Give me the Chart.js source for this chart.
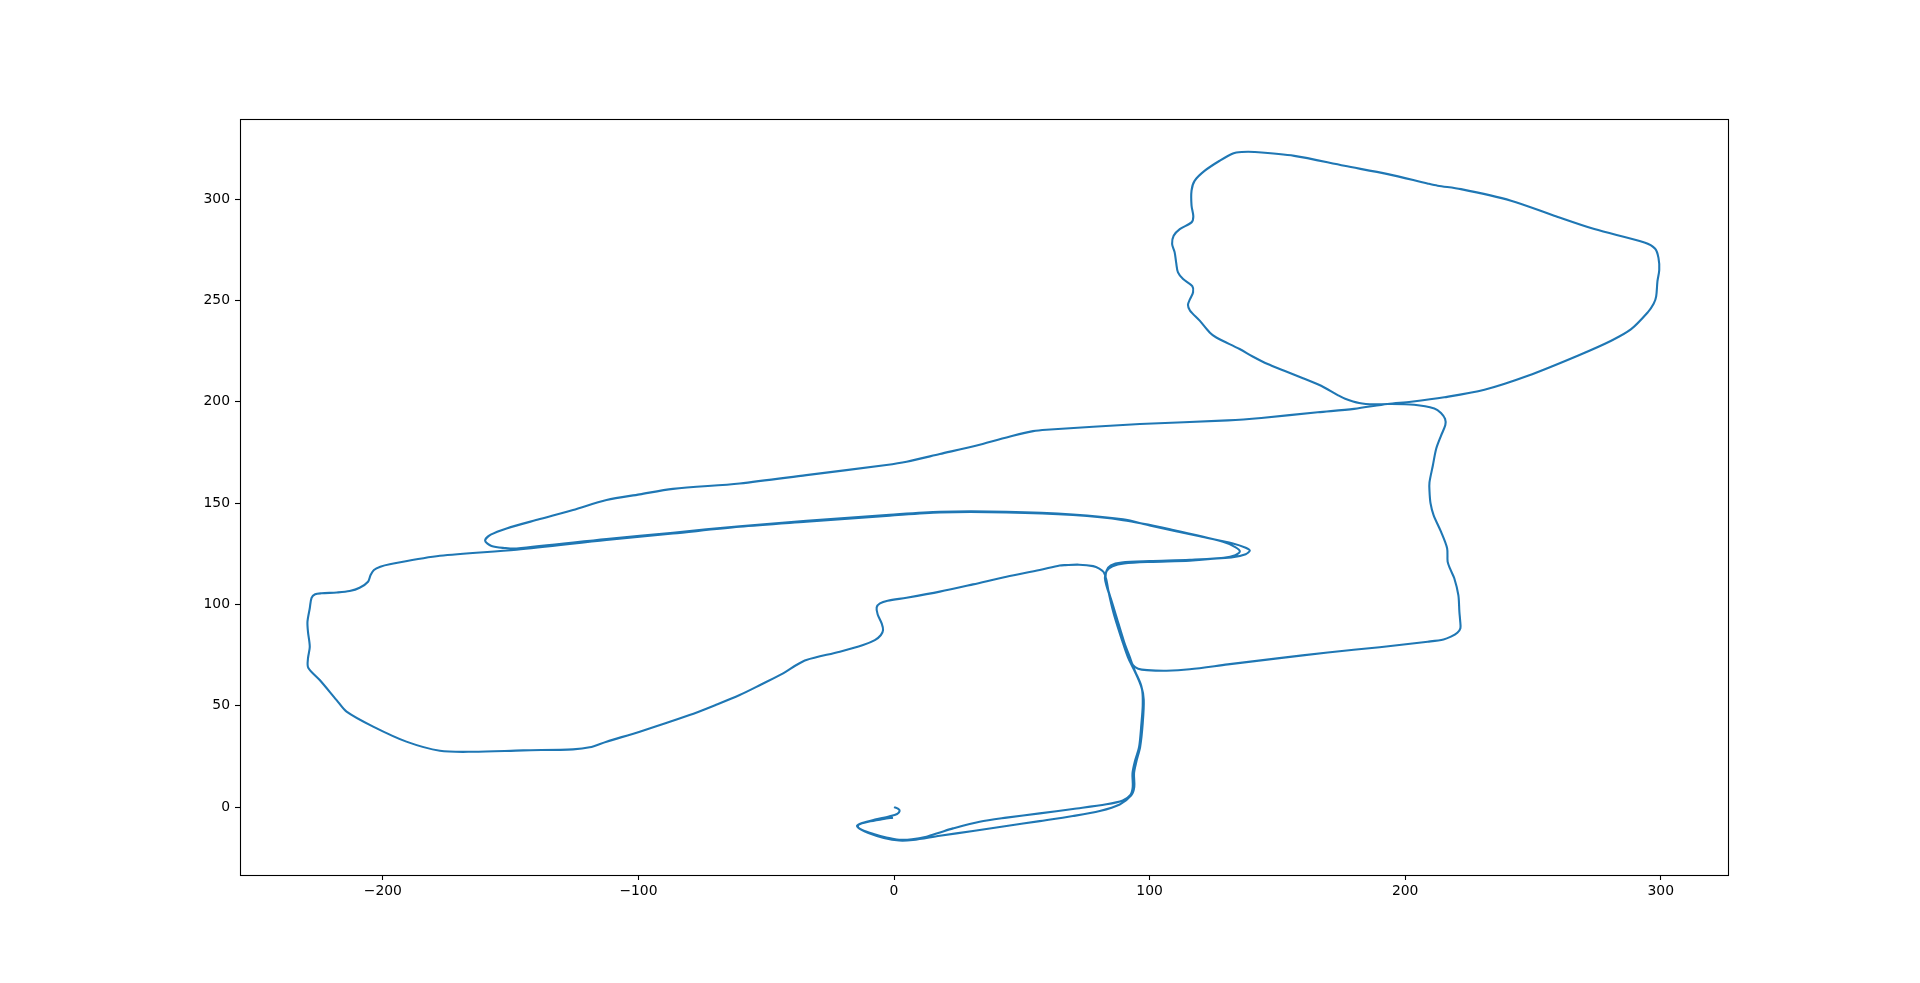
<!DOCTYPE html>
<html>
<head>
<meta charset="utf-8">
<script src="https://cdn.jsdelivr.net/npm/chart.js@4/dist/chart.umd.min.js"></script>
<style>
html,body{margin:0;padding:0;background:#fff;overflow:hidden;}
canvas{display:block;}
</style>
</head>
<body>
<canvas id="c" width="1920" height="983"></canvas>
<script>
// Tick values
const xTicks = [-200, -100, 0, 100, 200, 300];
const yTicks = [0, 50, 100, 150, 200, 250, 300];

// Trajectory, x and y in order of travel
const pathX = [0,1.5,2.2,1.2,-2,-7,-12.5,-14.5,-12.5,-8,-3,2,7,12.7,18,23.1,33.5,44,57,70,83.1,89.5,92.5,93.4,93.3,94.2,95.9,96.8,97.3,97.1,95.8,94,91.5,89.4,86.1,84.2,83,82,80.3,77.9,72.4,67,64.8,57,44,30.9,17.9,4.9,-2.5,-5.5,-6.8,-6.4,-4.8,-4.3,-5.2,-7.5,-12.1,-21.2,-34.3,-38.2,-43.4,-52,-60.4,-70,-80,-99.5,-112.5,-119.1,-125.6,-145.1,-164.7,-177.7,-190.8,-203.8,-214.2,-218.1,-224.7,-229.2,-229.3,-228.6,-229.3,-229.5,-228.6,-227.9,-226.5,-224,-218,-213,-209.1,-205.8,-204.8,-203.5,-201,-197.3,-177.7,-147.7,-112.5,-86.5,-60.4,-34.3,-1.7,17.9,44,70,89.6,109.2,128.7,133.5,135.3,133.5,129,115.7,100,90,85.5,83.2,82.8,83.6,84.8,86.8,90,92.4,93.5,95.5,99,106.6,115.7,130.6,150,169.7,190,208.8,215,217.9,220.4,221.6,221.5,221.2,220.8,219.2,217.6,216.6,216.4,214,211.1,209.9,209.5,209.5,210.8,212.1,214,215.7,215.6,214,211.4,203.5,193.1,188,182,176.5,173.6,167.1,160,152.7,146.2,140.5,135.2,126.1,123.5,119.6,115.8,115,115.8,117,116.7,113.1,111.1,110.4,109.8,108.8,109.4,111.8,116.4,117.1,116.4,116.4,117.6,121.6,127.4,132.6,136,141,156.6,176.2,193.2,209,212.7,221.8,241.4,258.3,274,293.6,297.8,299.1,299.4,298.7,298.2,297.2,294.9,288.4,280.6,267.5,248,231,215.3,202.3,193.1,180,165.8,143.7,130.6,96.2,59.6,54.4,46.5,33.5,17.9,4.9,-3,-34.3,-60.4,-86.5,-99.5,-112.5,-125.6,-138.6,-151.6,-157.8,-160,-157.5,-152,-147.7,-112.5,-86.5,-60.4,-34.3,-1.7,17.9,44,70,89.6,100,119.6,132.6,137.6,139.2,137.6,132,115.7,100,89,84.8,83.2,82.5,83.3,84.3,86.3,89.3,91.5,94.5,96.7,97.7,97.3,96.3,94.8,93.9,94,92.8,88.3,80.5,70,57,44,30.9,17.9,7.4,2,-4,-10,-14,-13.8,-10,-4,-0.4];
const pathY = [0,-0.8,-1.8,-3.4,-4.6,-6,-7.8,-9.2,-11.3,-13.3,-15,-16.1,-15.9,-14.6,-12.5,-10.5,-7.2,-5.2,-3.1,-0.9,1.4,3.3,6,10,16.7,22.4,29.8,41.3,50,57.5,62.5,67.5,74,81.6,94.8,104.6,112.5,116,117.7,118.9,119.6,119.4,119.2,117,113.7,109.9,106.3,103.3,101.8,100.5,98.5,95,90.5,87.3,84.8,82.4,80,76.7,72.6,70.1,66,60.5,55.3,50.3,45.4,37.2,32.3,29.5,28.5,28,27.3,27.8,32.3,39.7,47.1,52.8,62.7,68.8,73.4,79.1,86.5,91.5,98.1,103.2,105,105.5,105.9,106.6,108.2,111.2,114.5,117,118.6,119.8,124,127,131.8,135,138.3,140.8,143.8,145.4,145.4,144.1,141.6,136.7,130.9,128.3,126.2,124.3,123,121.6,121,120.2,118.8,116.5,112.5,108,103,94.8,81.6,73.5,70,68.3,67.6,67.3,68,70.4,73.4,76.3,78.9,81.6,82.7,84.1,86,88.2,92,96.4,104.6,112.9,117.5,121.1,127.7,135.9,144.1,150,156,160.2,168.4,176.7,183.2,188.5,191.5,194.5,196.7,198.5,198.9,198.7,199.4,201.5,203.3,207.9,211.6,215.3,218.6,222.2,226,231.7,234.2,240,245,247.8,250.6,254,257,260.5,263.8,268.5,273.7,277.8,281.9,285.2,288.5,291.5,296.8,304.2,309,314,318.9,322.5,323.2,323.2,321.3,316.4,312.3,307.6,306.6,304.9,299.2,291.8,285.2,278.6,275.5,271,265,259.5,252,248.3,244.1,235.8,230.1,222.7,212.8,205.9,202.2,200,198.9,196.5,194.8,192,190.8,189,186.2,185.5,183.2,178.8,174.2,170.4,168.8,163.8,159.7,157,154.3,151.5,146.6,142.1,137.5,134.4,131.5,128.8,127.8,127.6,132.2,135.4,138.6,141.2,144.2,145.7,145.7,144.4,142,139,133.6,130.1,128,126.6,124.8,123.2,122,121.4,120.7,119.3,116.8,113,108.5,104.6,95,82,75,66.5,60,53,41.3,29.8,22.4,16.7,10,5.8,1.3,-1.9,-4.4,-6.9,-9.3,-11.8,-14.1,-16.2,-16.5,-15.2,-12.8,-10.2,-8.6,-7.2,-5.9,-5.2];

const points = pathX.map((x, i) => ({x: x, y: pathY[i]}));

const fmt = v => (v < 0 ? '\u2212' + Math.abs(v) : String(v));
const tickFont = {family: 'DejaVu Sans', size: 13.9};

const frame = {
  id: 'frame',
  afterDraw(chart) {
    const {ctx, chartArea: a} = chart;
    ctx.save();
    ctx.strokeStyle = '#000';
    ctx.lineWidth = 1.1;
    ctx.strokeRect(a.left + 0.5, a.top + 0.5, a.right - a.left, a.bottom - a.top);
    ctx.restore();
  }
};

new Chart(document.getElementById('c'), {
  type: 'scatter',
  data: {
    datasets: [{
      data: points,
      showLine: true,
      borderColor: '#1f77b4',
      borderWidth: 2.1,
      pointRadius: 0,
      pointHoverRadius: 0,
      tension: 0.3,
      fill: false
    }]
  },
  options: {
    responsive: false,
    animation: false,
    devicePixelRatio: 1,
    layout: {padding: {top: 119, right: 192, left: 0, bottom: 0}},
    plugins: {legend: {display: false}, tooltip: {enabled: false}, title: {display: false}},
    scales: {
      x: {
        type: 'linear',
        position: 'bottom',
        min: -255.9,
        max: 326.3,
        afterBuildTicks: s => { s.ticks = xTicks.map(v => ({value: v})); },
        afterFit: s => { s.height = 108; },
        border: {display: false},
        grid: {display: true, drawOnChartArea: false, drawTicks: true, tickLength: 5, tickColor: '#000', tickWidth: 1.1},
        ticks: {color: '#000', font: tickFont, padding: 3, maxRotation: 0, callback: v => fmt(v)}
      },
      y: {
        type: 'linear',
        position: 'left',
        min: -33.5,
        max: 339.5,
        afterBuildTicks: s => { s.ticks = yTicks.map(v => ({value: v})); },
        afterFit: s => { s.width = 240; },
        border: {display: false},
        grid: {display: true, drawOnChartArea: false, drawTicks: true, tickLength: 5, tickColor: '#000', tickWidth: 1.1},
        ticks: {color: '#000', font: tickFont, padding: 5, callback: v => fmt(v)}
      }
    }
  },
  plugins: [frame]
});
</script>
</body>
</html>
